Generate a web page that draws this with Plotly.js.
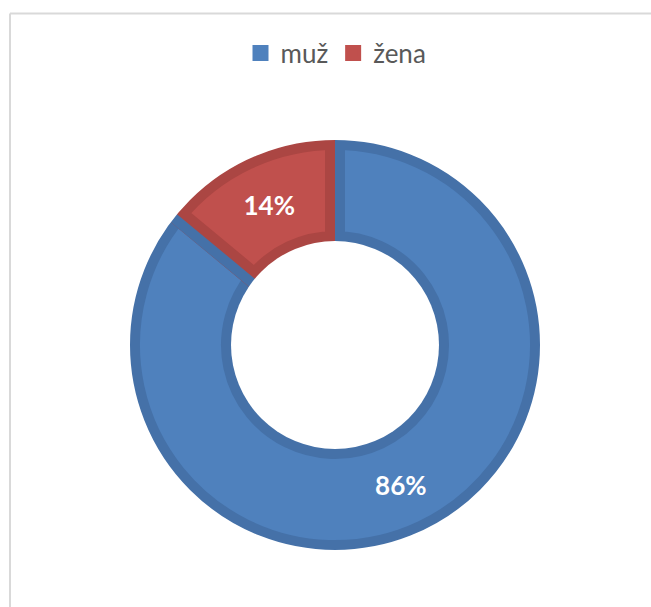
<!DOCTYPE html>
<html>
<head>
<meta charset="utf-8">
<script src="https://cdn.plot.ly/plotly-3.0.1.min.js"></script>
<style>html,body{margin:0;padding:0;background:#fff;}#chart{width:651px;height:607px;}</style>
</head>
<body>
<div id="chart"></div>
<script>
// ---- data ----
const labels = ['muž', 'žena'];
const values = [86, 14];
const fillColors = ['#4f81bd', '#c0504d'];
const edgeColors = ['#4571a8', '#ab4643'];

// ---- layout geometry (style only) ----
const W = 651, H = 607;
const cx = 335, cy = 345;      // pie centre in px
const R = 205;                 // outer radius in px
const rHole = 104;             // hole radius in px
const band = 10;               // darker edge band width in px
const total = values.reduce((a, b) => a + b, 0);

function dom(r, pull) {
  const h = r * (1 + pull);
  return { x: [(cx - h) / W, (cx + h) / W], y: [(H - cy - h) / H, (H - cy + h) / H] };
}

const clear = 'rgba(0,0,0,0)';

// main donut
const main = {
  type: 'pie', labels: labels, values: values, sort: false,
  direction: 'clockwise', rotation: 0,
  domain: dom(R, 0), hole: rHole / R,
  marker: { colors: fillColors, line: { color: edgeColors, width: band * 2 } },
  textinfo: 'percent', textposition: 'inside', insidetextorientation: 'horizontal',
  texttemplate: '%{percent:.0%}',
  textfont: { family: 'Lato, "Open Sans", sans-serif', size: 26, color: '#ffffff', weight: 700 },
  hoverinfo: 'none', showlegend: false
};

// overlay that restores the first slice's own edge colour along its radial edges
const R2 = 240;
const half = Math.PI * values[0] / total;
const pullFirst = (band / 2 / Math.sin(half)) / R2;
const overlay = {
  type: 'pie', labels: labels, values: values, sort: false,
  direction: 'clockwise', rotation: 0,
  domain: dom(R2, pullFirst), hole: 60 / R2,
  pull: [pullFirst, 0],
  marker: { colors: [clear, clear], line: { color: [edgeColors[0], clear], width: [band, 0] } },
  textinfo: 'none', hoverinfo: 'none', showlegend: false
};

// legend entries (plain squares); its own slices sit under the white hole mask
const legendPie = {
  type: 'pie', labels: labels, values: values, sort: false,
  direction: 'clockwise', rotation: 0,
  domain: dom(20, 0),
  marker: { colors: fillColors, line: { color: fillColors, width: 4 } },
  textinfo: 'none', hoverinfo: 'none', showlegend: true
};

// white mask outside the ring
const outerMask = {
  type: 'pie', labels: [' '], values: [total], sort: false,
  domain: dom(235, 0), hole: 0,
  marker: { colors: [clear], line: { color: '#ffffff', width: 60 } },
  textinfo: 'none', hoverinfo: 'none', showlegend: false
};

// white hole
const innerMask = {
  type: 'pie', labels: ['  '], values: [total], sort: false,
  domain: dom(rHole, 0), hole: 0,
  marker: { colors: ['#ffffff'], line: { color: '#ffffff', width: 0 } },
  textinfo: 'none', hoverinfo: 'none', showlegend: false
};

const layout = {
  width: W, height: H,
  margin: { l: 0, r: 0, t: 0, b: 0 },
  paper_bgcolor: '#ffffff', plot_bgcolor: '#ffffff',
  hovermode: false,
  showlegend: true,
  legend: {
    orientation: 'h', x: 336 / W, xanchor: 'center', y: 1 - 53 / H, yanchor: 'middle',
    font: { family: 'Lato, "Open Sans", sans-serif', size: 26, color: '#595959' },
    bgcolor: clear, itemclick: false, itemdoubleclick: false, tracegroupgap: 0
  },
  shapes: [
    { type: 'line', xref: 'paper', yref: 'paper', x0: 10 / W, x1: 10 / W, y0: 0, y1: 1 - 13.5 / H,
      line: { color: '#d9d9d9', width: 2 } },
    { type: 'line', xref: 'paper', yref: 'paper', x0: 10 / W, x1: 1, y0: 1 - 13.5 / H, y1: 1 - 13.5 / H,
      line: { color: '#d9d9d9', width: 2 } }
  ]
};

Plotly.newPlot('chart', [main, overlay, legendPie, outerMask, innerMask], layout, { displayModeBar: false, staticPlot: true });
</script>
</body>
</html>
